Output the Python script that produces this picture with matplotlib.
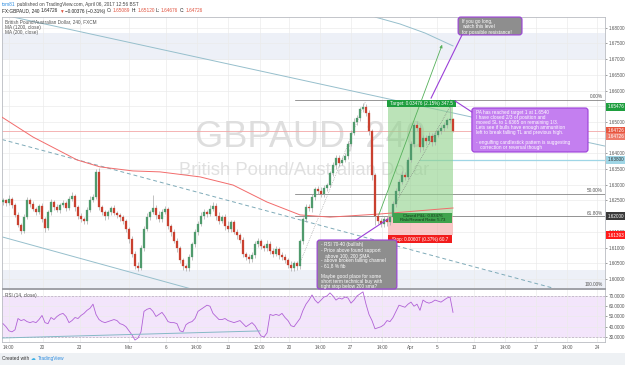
import numpy as np
import matplotlib
matplotlib.use('Agg')
import matplotlib.pyplot as plt
import matplotlib.transforms as mtransforms
from matplotlib.patches import Rectangle, FancyBboxPatch

plt.rcParams['font.family'] = ['Liberation Sans', 'DejaVu Sans']

# ---- data (4h bars, GBPAUD) ----
first_open = 1.6244
closes = [1.6250, 1.6242, 1.6256, 1.6236, 1.6205, 1.6172, 1.6152, 1.6198, 1.6250, 1.6238,
          1.6224, 1.6214, 1.6232, 1.6190, 1.6162, 1.6212, 1.6246, 1.6230, 1.6220, 1.6236,
          1.6241, 1.6226, 1.6256, 1.6263, 1.6230, 1.6200, 1.6190, 1.6185, 1.6220, 1.6252,
          1.6262, 1.6340, 1.6228, 1.6214, 1.6200, 1.6212, 1.6226, 1.6210, 1.6204, 1.6196,
          1.6184, 1.6160, 1.6128, 1.6080, 1.6042, 1.6036, 1.6100, 1.6160, 1.6198, 1.6214,
          1.6226, 1.6204, 1.6190, 1.6214, 1.6222, 1.6170, 1.6150, 1.6122, 1.6098, 1.6060,
          1.6040, 1.6035, 1.6070, 1.6110, 1.6150, 1.6176, 1.6200, 1.6214, 1.6208, 1.6224,
          1.6232, 1.6200, 1.6186, 1.6196, 1.6170, 1.6160, 1.6180, 1.6150, 1.6140, 1.6124,
          1.6080, 1.6070, 1.6064, 1.6076, 1.6110, 1.6120, 1.6104, 1.6100, 1.6112, 1.6090,
          1.6080, 1.6096, 1.6076, 1.6070, 1.6060, 1.6046, 1.6036, 1.6050, 1.6040, 1.6120,
          1.6190, 1.6230, 1.6226, 1.6262, 1.6286, 1.6280, 1.6270, 1.6290, 1.6300, 1.6336,
          1.6362, 1.6386, 1.6370, 1.6380, 1.6392, 1.6430, 1.6466, 1.6500, 1.6512, 1.6540,
          1.6546, 1.6530, 1.6470, 1.6330, 1.6200, 1.6186, 1.6176, 1.6190, 1.6180, 1.6196,
          1.6240, 1.6280, 1.6310, 1.6332, 1.6326, 1.6380, 1.6430, 1.6490, 1.6480, 1.6420,
          1.6450, 1.6440, 1.6456, 1.6436, 1.6460, 1.6470, 1.6480, 1.6490, 1.6505, 1.65089,
          1.64726]
# wick lengths in pips above / below the candle body
wick_hi = [8, 6, 10, 5, 7, 9, 6, 8, 12, 7, 9, 6, 8, 11, 7, 9, 10, 6, 8, 7,
           12, 8, 9, 14, 7, 6, 10, 8, 9, 11, 7, 10, 12, 8, 6, 9, 7, 10, 8, 6,
           9, 7, 6, 8, 10, 12, 8, 9, 11, 7, 40, 9, 12, 8, 10, 7, 6, 9, 8, 7,
           6, 8, 10, 7, 9, 8, 12, 10, 7, 11, 14, 9, 12, 8, 10, 16, 7, 9, 8, 6,
           10, 7, 8, 9, 12, 10, 7, 8, 11, 9, 8, 10, 7, 9, 8, 6, 10, 8, 7, 6,
           8, 10, 9, 7, 8, 9, 12, 8, 7, 9, 10, 8, 9, 7, 10, 8, 9, 12, 10, 8,
           15, 10, 8, 9, 7, 10, 8, 12, 9, 7, 8, 10, 9, 11, 8, 9, 10, 8, 12, 9,
           10, 8, 12, 9, 10, 8, 9, 10, 8, 63, 3]
wick_lo = [7, 9, 6, 10, 8, 7, 10, 6, 8, 9, 7, 10, 8, 9, 12, 6, 8, 10, 7, 9,
           8, 10, 7, 9, 12, 8, 10, 9, 11, 7, 8, 6, 9, 10, 12, 8, 9, 7, 10, 11,
           8, 10, 12, 9, 10, 11, 8, 10, 7, 9, 8, 12, 10, 9, 8, 10, 12, 9, 11, 10,
           12, 10, 8, 9, 7, 10, 8, 9, 11, 8, 9, 12, 10, 8, 14, 9, 10, 8, 12, 10,
           11, 10, 12, 9, 10, 8, 9, 12, 10, 9, 10, 8, 12, 9, 10, 11, 12, 9, 10, 8,
           9, 10, 8, 12, 9, 10, 8, 9, 10, 8, 9, 12, 10, 8, 9, 10, 8, 9, 10, 8,
           9, 10, 12, 14, 28, 10, 9, 12, 10, 8, 9, 10, 12, 8, 10, 9, 8, 10, 9, 15,
           10, 12, 9, 14, 10, 9, 8, 10, 9, 8, 5]
rsi = [43, 40, 36, 35, 37, 48, 46, 47, 45, 44, 45, 44, 47, 51, 44, 43, 49, 47, 50, 52,
       53, 50, 44, 46, 49, 48, 51, 53, 56, 58, 62, 52, 47, 45, 44, 45, 46, 47, 46, 43,
       42, 40, 36, 32, 27, 29, 35, 55, 57, 58, 55, 50, 52, 54, 50, 45, 44, 44, 43, 36,
       35, 42, 44, 45, 48, 55, 57, 59, 61, 60, 53, 50, 47, 47, 48, 46, 45, 44, 45, 46,
       43, 40, 42, 44, 41, 36, 31, 30, 34, 52, 51, 52, 51, 53, 49, 46, 41, 40, 44, 48,
       56, 62, 66, 71, 66, 63, 66, 69, 70, 73, 70, 66, 68, 67, 69, 68, 63, 66, 70, 72,
       74, 62, 52, 46, 38, 39, 40, 42, 46, 45, 49, 55, 61, 60, 59, 62, 64, 60, 62, 56,
       66, 64, 63, 64, 66, 65, 64, 66, 68, 69, 54]

ma200_bar = [-0.3, 10, 24.7, 32.3, 43.3, 52.3, 65.7, 76.7, 88, 99, 109, 125.7, 150]
ma200_val = [1.6515, 1.6452, 1.6379, 1.6357, 1.6344, 1.6341, 1.6325, 1.6299,
             1.6245, 1.6204, 1.6197, 1.6207, 1.6226]
ma1200_bar = [124, 132.3, 140.7, 150]
ma1200_val = [1.6834, 1.6812, 1.6783, 1.6742]

chan_top = ([3.3, 200.7], [1.6834, 1.6423])
chan_low = ([-0.3, 64.0], [1.6134, 1.5965])
chan_mid = ([-0.3, 185.7], [1.6444, 1.5965])
rsi_line = ([-0.3, 85.7], [29.0, 35.9])

fib_high, fib_low = 1.6570, 1.5971
fib_levels = [0.0, 0.5, 0.618, 1.0]
fib_start = 97.3

entry, target, stop = 1.62000, 1.65476, 1.61393
pos_x0, pos_x1 = 128.3, 150.0
last_price = 1.64726
stop_line = 1.6380

price_ticks = np.arange(1.600, 1.6801, 0.005)
hidden_ticks = [1.655, 1.645, 1.620]   # covered by the coloured price labels
time_pos = [1.9, 13.2, 25.6, 41.9, 54.3, 64.5, 75, 85.5, 95.3, 105.7, 115.9, 126.3,
            135.8, 144.7, 157, 167.3, 177.7, 188, 198.1]
time_labels = ['14:00', '20', '23', 'Mar', '6', '14:00', '13', '12:00', '20', '14:00',
               '27', '14:00', 'Apr', '5', '10', '14:00', '17', '14:00', '24']

# ---- figure ----
W, H = 625, 365
fig = plt.figure(figsize=(6.25, 3.65), dpi=100)
fig.patch.set_facecolor('white')
renderer = fig.canvas.get_renderer()


def rect(x0, y0, x1, y1):
    return [x0 / W, 1 - y1 / H, (x1 - x0) / W, (y1 - y0) / H]


def ftext(x, y, s, **kw):
    kw.setdefault('fontsize', 3.4)
    kw.setdefault('color', '#444444')
    return fig.text(x / W, 1 - y / H, s, va='center', **kw)


def text_run(x, y, parts, gap=1.2):
    # place coloured pieces one after another on one line
    for s, colr in parts:
        t = ftext(x, y, s, color=colr)
        x = t.get_window_extent(renderer).x1 + gap


fig.add_artist(Rectangle((0, 0), 1, 12 / H, transform=fig.transFigure,
                         fc='#eef1f4', ec='none', zorder=0))

ax = fig.add_axes(rect(2, 17, 605, 288))
ax2 = fig.add_axes(rect(2, 289, 605, 342), sharex=ax)
ax.set_zorder(3)
ax.set_xlim(-1 / 3, 200 + 2 / 3)
ax.set_ylim(1.59713, 1.68341)

for a in (ax, ax2):
    for s in a.spines.values():
        s.set_color('#b9bcc2')
        s.set_linewidth(0.6)
    a.yaxis.tick_right()
    a.tick_params(axis='y', labelsize=3.3, colors='#555555', length=1.5, width=0.4, pad=1.5)
    a.tick_params(axis='x', length=0, labelsize=3.3, colors='#555555', pad=2.5)
    a.set_xticks(time_pos)
    a.grid(True, color='#ebebeb', lw=0.5)
    a.set_axisbelow(True)
ax.tick_params(labelbottom=False)
ax2.set_xticklabels(time_labels)
ax.set_yticks(price_ticks)
ax.set_yticklabels(['' if any(abs(p - h) < 1e-6 for h in hidden_ticks) else '%.5f' % p
                    for p in price_ticks])
ax.spines['bottom'].set_color('#8f9299')

# shaded bands
ax.axhspan(1.66972, 1.67831, color='#edf0f7', zorder=0.5, lw=0)
ax.axhspan(1.5960, 1.60286, color='#edf0f7', zorder=0.5, lw=0)

# watermark
ax.text(102.3, 1.6452, 'GBPAUD, 240', fontsize=26, color='#dedede', ha='center',
        va='center', zorder=1)
ax.text(100.3, 1.6346, 'British Pound/Australian Dollar', fontsize=13.3,
        color='#e0e0e0', ha='center', va='center', zorder=1)

# lines
ax.plot(*chan_top, color='#96bfcc', lw=0.7, zorder=2)
ax.plot(*chan_low, color='#96bfcc', lw=0.7, zorder=2)
ax.plot(*chan_mid, color='#7eaab8', lw=0.7, ls=(0, (4, 3)), zorder=2)
ax.plot(ma1200_bar, ma1200_val, color='#96bfcc', lw=0.7, zorder=2)
ax.plot(ma200_bar, ma200_val, color='#f26b6b', lw=0.7, zorder=3)
ax.axhline(last_price, color='#f3a7a7', lw=0.6, zorder=2)
ax.plot([139, 200.7], [stop_line, stop_line], color='#9fd6e6', lw=0.9, zorder=2)

fib_prices = [fib_high - f * (fib_high - fib_low) for f in fib_levels]
for f, p in zip(fib_levels, fib_prices):
    ax.plot([fib_start, 200.7], [p, p], color='#6d6d6d', lw=0.5, zorder=2)
    ax.text(200.0, p + 0.0002, '%.2f%%' % (f * 100), fontsize=3.4, color='#555555',
            ha='right', va='bottom', zorder=3)

# position tool
ax.add_patch(Rectangle((pos_x0, entry), pos_x1 - pos_x0, target - entry,
                       fc='#8fd18a', alpha=0.6, ec='none', zorder=2.5))
ax.add_patch(Rectangle((pos_x0, stop), pos_x1 - pos_x0, entry - stop,
                       fc='#f5a3a3', alpha=0.6, ec='none', zorder=2.5))

# candles
n = len(closes)
xb = np.arange(n)
c = np.array(closes)
o = np.r_[first_open, c[:-1]]
hi = np.maximum(o, c) + np.array(wick_hi) * 1e-4
lo = np.minimum(o, c) - np.array(wick_lo) * 1e-4
col = np.where(c >= o, '#4f9a6c', '#c9402f')
ax.vlines(xb, lo, hi, color='#a9a9a9', lw=0.5, zorder=4)
ax.bar(xb, np.maximum(np.abs(c - o), 0.00006), bottom=np.minimum(o, c), width=0.62,
       color=col, edgecolor=col, lw=0.2, zorder=5)

# dotted trend lines and green projection arrow
ax.plot([99, 121], [1.6051, 1.6570], color='#9a9a9a', lw=0.5, ls=':', zorder=4)
ax.plot([130.7, 149.7], [1.6238, 1.6560], color='#777777', lw=0.5, ls=':', zorder=6)
ax.annotate('', xy=(146.7, 1.6754), xytext=(125, 1.6197),
            arrowprops=dict(arrowstyle='-|>', color='#55b05a', lw=0.6, mutation_scale=4),
            zorder=7, annotation_clip=False)


# labels of the position tool
def label_box(x0, x1, p0, p1, txt, fc, tc, fs=3.3):
    ax.add_patch(Rectangle((x0, p0), x1 - x0, p1 - p0, fc=fc, ec='none', zorder=8,
                           clip_on=False))
    ax.text((x0 + x1) / 2, (p0 + p1) / 2, txt, fontsize=fs, color=tc, ha='center',
            va='center', zorder=9, linespacing=1.0)


label_box(128, 151, target, 1.65698, 'Target: 0.03476 (2.15%) 347.5', '#1e9e3e', 'white')
label_box(128.3, 149.7, 1.61138, stop, 'Stop: 0.00607 (0.37%) 60.7', '#f21c1c', 'white')
label_box(130, 149.7, 1.61783, 1.62101, 'Closed P&L: 0.03476\nRisk/Reward Ratio: 5.73',
          '#3fa34d', '#17331a', fs=3.1)

# callout boxes
asp = (1 / 3141) / (1 / 3)


def callout(x0, x1, p0, p1, fc, txt, tx, tp, tail, ls=1.1):
    box = FancyBboxPatch((x0, p0), x1 - x0, p1 - p0,
                         boxstyle='round,pad=0,rounding_size=0.9', mutation_aspect=asp,
                         fc=fc, ec='#9b3fd8', lw=0.8, zorder=10, clip_on=False)
    ax.add_patch(box)
    ax.plot(tail[0], tail[1], color='#9b3fd8', lw=0.8, zorder=10, clip_on=False)
    ax.text(tx, tp, txt, fontsize=3.4, color='white', ha='left', va='top',
            linespacing=ls, zorder=11, clip_on=False)


callout(151.7, 173.0, 1.6777, 1.6834, '#8e8e8e',
        'If you go long,\nwatch this level\nfor possible resistance!',
        153.0, 1.68275, ([153, 142.7], [1.6777, 1.6576]))
callout(156.3, 195.0, 1.64043, 1.65444, '#c47ff0',
        'PA has reached target 1 at 1.6540\nI have closed 2/3 of position and\n'
        'moved SL to 1.6365 on remaining 1/3.\nLets see if bulls have enough ammunition\n'
        'left to break falling TL and previous high.\n\n'
        '- engulfing candlestick pattern is suggesting\n   correction or reversal though',
        157.5, 1.65370, ([156.3, 150.7], [1.65317, 1.65666]), ls=0.98)
callout(104.7, 131.3, 1.59681, 1.61241, '#8e8e8e',
        '- RSI 70-40 (bullish)\n- Price above found support\n   above 100, 200 SMA\n'
        '- above broken falling channel\n- 61,8 % fib\n\nMaybe good place for some\n'
        'short term technical buy with\ntight stop below 200 sma?',
        106.0, 1.61165, ([117.7, 128.3], [1.61241, 1.6191]), ls=1.05)

# price-scale labels
tr = mtransforms.blended_transform_factory(ax.transAxes, ax.transData)
for p, txt, fc, tc in [(target, '1.65476', '#1e9e3e', 'white'),
                       (last_price, '1.64726', '#e8563f', 'white'),
                       (1.64535, '1.64726', '#ef7a6a', 'white'),
                       (stop_line, '1.63800', '#9fd6e6', '#333333'),
                       (entry, '1.62000', '#3a3a3a', 'white'),
                       (stop, '1.61393', '#ff1a1a', 'white')]:
    ax.text(1.004, p, txt, transform=tr, fontsize=3.3, color=tc, ha='left', va='center',
            bbox=dict(boxstyle='square,pad=0.3', fc=fc, ec='none'), clip_on=False,
            zorder=12)

# RSI pane
ax2.set_ylim(25.1, 76.8)
ax2.axhspan(30, 70, color='#f3e5fb', zorder=0.5, lw=0)
ax2.axhline(70, color='#b8a8c0', lw=0.5, ls=(0, (3, 2)))
ax2.axhline(30, color='#b8a8c0', lw=0.5, ls=(0, (3, 2)))
ax2.set_yticks([30, 40, 50, 60, 70])
ax2.set_yticklabels(['%.4f' % v for v in [30, 40, 50, 60, 70]])
ax2.plot(xb, rsi, color='#b061d6', lw=0.6, zorder=3)
ax2.plot(*rsi_line, color='#86b9c6', lw=0.7, zorder=3)
ax2.spines['top'].set_color('#8f9299')

# header / legend / footer texts
text_run(2, 4.5, [('tom81', '#2a8be0'),
                  ('published on TradingView.com, April 06, 2017 12:56 BST', '#444444')])
text_run(2, 11, [('FX:GBPAUD, 240', '#222222'), ('1.64726', '#222222'),
                 ('▼', '#e0533f'), ('−0.00376 (−0.31%)', '#222222'),
                 ('O:', '#222222'), ('1.65089', '#e0533f'),
                 ('H:', '#222222'), ('1.65120', '#e0533f'),
                 ('L:', '#222222'), ('1.64676', '#e0533f'),
                 ('C:', '#222222'), ('1.64726', '#e0533f')])
ftext(5, 21.7, 'British Pound/Australian Dollar, 240, FXCM', color='#555555')
ftext(5, 27.3, 'MA (1200, close)', color='#555555')
ftext(5, 32.3, 'MA (200, close)', color='#555555')
ftext(5, 295, 'RSI (14, close)', color='#555555')
text_run(2, 358.5, [('Created with', '#333333'), ('☁', '#3cb0e6'),
                    ('TradingView', '#2a8be0')], gap=2)

fig.savefig('out.png', dpi=100)
